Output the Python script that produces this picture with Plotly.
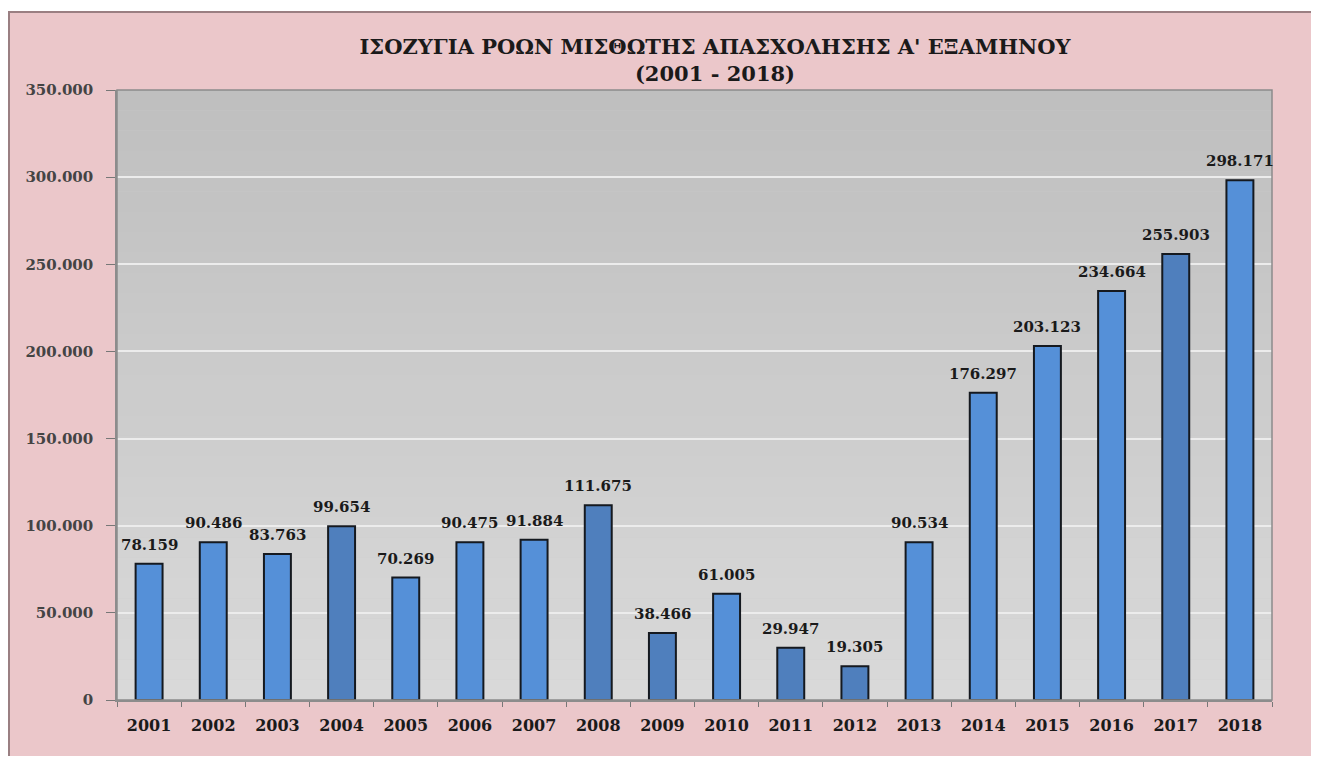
import plotly.graph_objects as go

years = ["2001", "2002", "2003", "2004", "2005", "2006", "2007", "2008", "2009",
         "2010", "2011", "2012", "2013", "2014", "2015", "2016", "2017", "2018"]
values = [78159, 90486, 83763, 99654, 70269, 90475, 91884, 111675, 38466,
          61005, 29947, 19305, 90534, 176297, 203123, 234664, 255903, 298171]
dark_years = ["2004", "2008", "2009", "2011", "2012", "2017"]
tick_vals = [0, 50000, 100000, 150000, 200000, 250000, 300000, 350000]
title_lines = ["ΙΣΟΖΥΓΙΑ ΡΟΩΝ ΜΙΣΘΩΤΗΣ ΑΠΑΣΧΟΛΗΣΗΣ Α' ΕΞΑΜΗΝΟΥ", "(2001 - 2018)"]

LIGHT = "#5590d8"
DARK = "#4f7fbd"
colors = [DARK if y in dark_years else LIGHT for y in years]
FONT = "DejaVu Serif"

W, H = 1311, 748
ML, MR, MT, MB = 109, 47, 82, 56

fig = go.Figure()
fig.add_trace(go.Bar(
    x=years, y=values,
    marker=dict(color=colors, line=dict(color="#15191f", width=2)),
    width=0.42,
    hoverinfo="skip",
))

annotations = []
for i, v in enumerate(values):
    annotations.append(dict(
        x=i, y=v, xref="x", yref="y",
        text="<b>{:,}</b>".format(v).replace(",", "."),
        showarrow=False, yanchor="bottom", yshift=8,
        font=dict(family=FONT, size=15, color="#1a1a1a"),
    ))

shapes = []
n = 30
top = (0xbf, 0xbf, 0xbf)
bot = (0xd9, 0xd9, 0xd9)
for i in range(n):
    t = i / (n - 1)
    c = tuple(int(round(bot[k] + (top[k] - bot[k]) * t)) for k in range(3))
    shapes.append(dict(type="rect", xref="x domain", yref="y domain",
                       x0=0, x1=1, y0=i / n, y1=(i + 1) / n,
                       fillcolor="rgb(%d,%d,%d)" % c, line=dict(width=0),
                       layer="below"))
shapes.append(dict(type="rect", xref="x domain", yref="y domain", x0=0, x1=1, y0=0, y1=1,
                   line=dict(color="#8c8c8c", width=1.5), fillcolor="rgba(0,0,0,0)",
                   layer="above"))
pw = W - ML - MR
ph = H - MT - MB
def px_x(p):
    return (p - ML) / pw
def px_y(p):
    return (H - MB - p) / ph
shapes.append(dict(type="rect", xref="paper", yref="paper",
                   x0=px_x(0), x1=px_x(W), y0=px_y(3), y1=px_y(0),
                   fillcolor="white", line=dict(width=0), layer="below"))
shapes.append(dict(type="line", xref="paper", yref="paper",
                   x0=px_x(0), x1=px_x(W), y0=px_y(4), y1=px_y(4),
                   line=dict(color="#9a7f82", width=2), layer="below"))
shapes.append(dict(type="line", xref="paper", yref="paper",
                   x0=px_x(1), x1=px_x(1), y0=px_y(4), y1=px_y(H),
                   line=dict(color="#9a7f82", width=2), layer="below"))

fig.update_layout(
    width=W, height=H,
    margin=dict(l=ML, r=MR, t=MT, b=MB),
    paper_bgcolor="#ebc7ca",
    plot_bgcolor="#cbcbcb",
    separators=",.",
    showlegend=False,
    shapes=shapes,
    annotations=annotations,
    title=dict(
        text="<b>" + title_lines[0] + "</b><br><b>" + title_lines[1] + "</b>",
        x=(715 - 8) / W, xanchor="center", y=1 - 46 / H, yanchor="top",
        font=dict(family=FONT, size=21, color="#1a1a1a"),
    ),
    xaxis=dict(
        type="category",
        range=[-0.5, len(years) - 0.5],
        showgrid=False,
        ticks="outside", tickson="boundaries", ticklen=5, tickcolor="#777777",
        showline=True, linecolor="#8c8c8c", linewidth=1.5,
        ticklabelstandoff=10,
        tickangle=0,
        tickfont=dict(family=FONT, size=16, color="#1a1a1a", weight="bold"),
    ),
    yaxis=dict(
        range=[0, 350000],
        tickvals=tick_vals,
        tickformat=",d",
        showgrid=True, gridcolor="#ececec", gridwidth=1.5,
        ticks="outside", ticklen=9, tickcolor="#777777",
        showline=True, linecolor="#8c8c8c", linewidth=1.5,
        zeroline=False,
        ticklabelstandoff=10,
        tickfont=dict(family=FONT, size=15, color="#444444", weight="bold"),
    ),
)

fig.write_html("out.html")
